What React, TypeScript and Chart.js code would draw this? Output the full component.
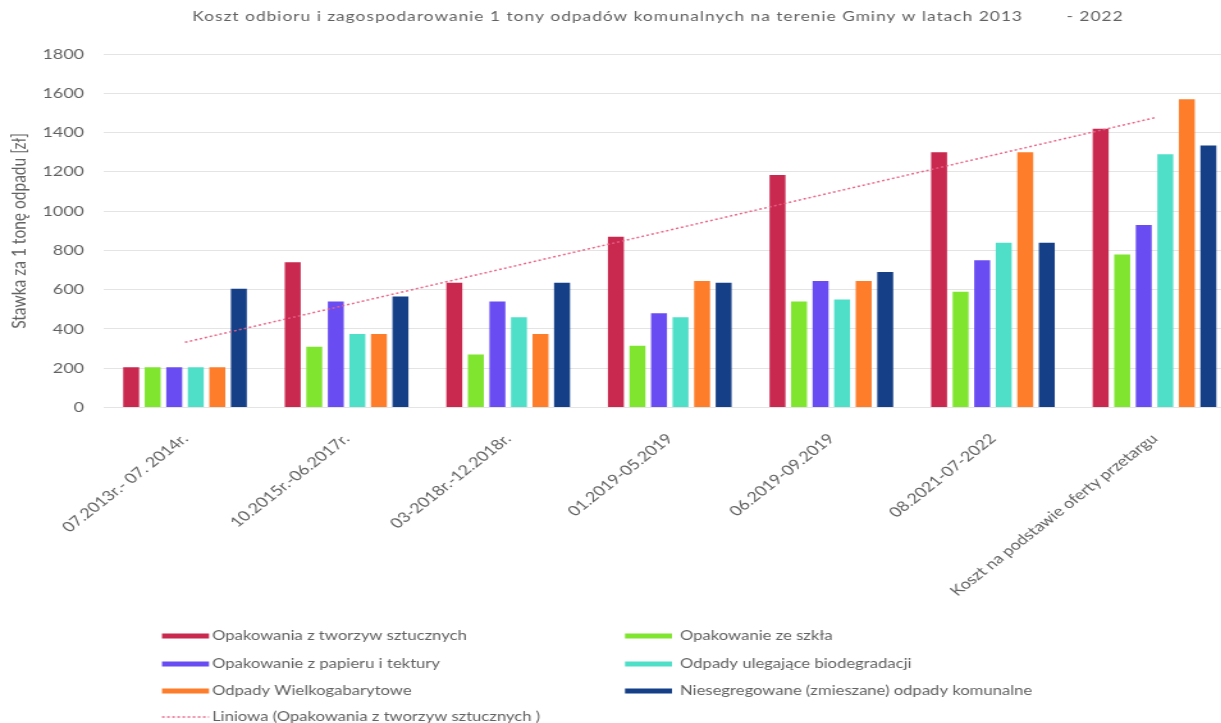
import React, { useEffect, useRef } from "react";
import { Chart, registerables } from "chart.js";

Chart.register(...registerables);

// ---- data ----
const categories = [
  "07.2013r.- 07. 2014r.",
  "10.2015r.-06.2017r.",
  "03-2018r.-12.2018r.",
  "01.2019-05.2019",
  "06.2019-09.2019",
  "08.2021-07-2022",
  "Koszt na podstawie oferty przetargu",
];
const plastic = [205, 740, 635, 870, 1185, 1300, 1420];
const glass = [205, 310, 270, 315, 540, 590, 780];
const paper = [205, 540, 540, 480, 645, 750, 930];
const bio = [205, 375, 460, 460, 550, 840, 1290];
const bulky = [205, 375, 375, 645, 645, 1300, 1570];
const mixed = [605, 565, 635, 635, 690, 840, 1335];
const trend: (number | null)[] = [332, null, null, null, null, null, 1476];
const yTicks = [0, 1800, 200]; // min, max, step

const seriesNames = [
  "Opakowania z tworzyw sztucznych",
  "Opakowanie ze szkła",
  "Opakowanie z papieru i tektury",
  "Odpady ulegające biodegradacji",
  "Odpady Wielkogabarytowe",
  "Niesegregowane (zmieszane) odpady komunalne",
  "Liniowa (Opakowania z tworzyw sztucznych )",
];
const titleText =
  "Koszt odbioru i zagospodarowanie 1 tony odpadów komunalnych na terenie Gminy w latach 2013        - 2022";
const yTitle = "Stawka za 1 tonę odpadu [zł]";

// ---- styles ----
const colors = ["#c9284f", "#80e52f", "#6a4df2", "#4fdfc8", "#fd7d2b", "#153f87"];
const trendColor = "rgba(232, 96, 132, 0.95)";
const FONT = "Lato, 'Open Sans', sans-serif";
const TXT = "#616161";
const K = 1.28; // horizontal stretch of the picture
const H = 723;
const W = Math.ceil(1240 / K);
const PLOT_LEFT = 104.2 / K;
const PLOT_RIGHT = 1235.3 / K;
const PLOT_TOP = 54.2;
const PLOT_BOTTOM = 407.5;

const titleLegendPlugin = {
  id: "titleLegend",
  afterDraw(chart: any) {
    const ctx = chart.ctx as CanvasRenderingContext2D;
    ctx.save();
    ctx.fillStyle = TXT;
    ctx.font = `13.5px ${FONT}`;
    (ctx as any).letterSpacing = "0.8px";
    ctx.textAlign = "center";
    ctx.textBaseline = "middle";
    ctx.fillText(titleText, 658 / K, 17);
    (ctx as any).letterSpacing = "0px";

    const swX = [162 / K, 625 / K];
    const txX = [212 / K, 680 / K];
    const rows = [636, 664, 691, 717];
    const swW = 47 / K;
    ctx.font = `13px ${FONT}`;
    ctx.textAlign = "left";
    for (let i = 0; i < seriesNames.length; i++) {
      const col = i === 6 ? 0 : i % 2;
      const row = i === 6 ? 3 : Math.floor(i / 2);
      const x = swX[col];
      const y = rows[row];
      if (i < 6) {
        ctx.fillStyle = colors[i];
        ctx.fillRect(x, y - 2.5, swW, 5);
      } else {
        ctx.strokeStyle = trendColor;
        ctx.lineWidth = 1.5;
        ctx.setLineDash([2, 2]);
        ctx.beginPath();
        ctx.moveTo(x, y);
        ctx.lineTo(x + swW, y);
        ctx.stroke();
        ctx.setLineDash([]);
      }
      ctx.fillStyle = TXT;
      ctx.fillText(seriesNames[i], txX[col], y);
    }
    ctx.restore();
  },
};

export default function App() {
  const ref = useRef<HTMLCanvasElement>(null);
  useEffect(() => {
    if (!ref.current) return;
    const barSets = [plastic, glass, paper, bio, bulky, mixed].map((d, i) => ({
      type: "bar" as const,
      label: seriesNames[i],
      data: d,
      backgroundColor: colors[i],
      borderWidth: 0,
      categoryPercentage: 0.8,
      barPercentage: 0.74,
      order: 1,
    }));
    const chart = new Chart(ref.current, {
      type: "bar",
      data: {
        labels: categories,
        datasets: [
          ...barSets,
          {
            type: "line" as const,
            label: seriesNames[6],
            data: trend,
            borderColor: trendColor,
            borderWidth: 1.5,
            borderDash: [2, 2],
            pointRadius: 0,
            spanGaps: true,
            fill: false,
            order: 0,
          } as any,
        ],
      },
      options: {
        responsive: false,
        animation: false,
        devicePixelRatio: 1,
        layout: { padding: { top: PLOT_TOP, right: W - PLOT_RIGHT, left: 0, bottom: 0 } },
        plugins: { legend: { display: false }, title: { display: false }, tooltip: { enabled: false } },
        scales: {
          x: {
            grid: { display: false },
            border: { display: false },
            ticks: {
              autoSkip: false,
              minRotation: 45,
              maxRotation: 45,
              padding: 15,
              color: TXT,
              font: { family: FONT, size: 14 },
            },
            afterFit: (s: any) => {
              s.height = H - PLOT_BOTTOM;
            },
          },
          y: {
            min: yTicks[0],
            max: yTicks[1],
            ticks: {
              stepSize: yTicks[2],
              padding: PLOT_LEFT - 84 / K,
              color: TXT,
              font: { family: FONT, size: 14 },
              callback: (v: any) => String(v),
            },
            grid: { color: "#e4e4e4", drawTicks: false, lineWidth: 1 },
            border: { display: false },
            title: {
              display: true,
              text: yTitle,
              color: TXT,
              font: { family: FONT, size: 15.5 },
              padding: { top: 5.5, bottom: 0 },
            },
            afterFit: (s: any) => {
              s.width = PLOT_LEFT;
            },
          },
        },
      },
      plugins: [titleLegendPlugin],
    });
    return () => chart.destroy();
  }, []);

  return (
    <div
      style={{
        position: "fixed",
        left: 0,
        top: 0,
        width: 1221,
        height: H,
        overflow: "hidden",
        background: "#fff",
      }}
    >
      <div style={{ width: W, height: H, transform: `scaleX(${K})`, transformOrigin: "0 0" }}>
        <canvas ref={ref} width={W} height={H} style={{ display: "block", width: W, height: H }} />
      </div>
    </div>
  );
}
